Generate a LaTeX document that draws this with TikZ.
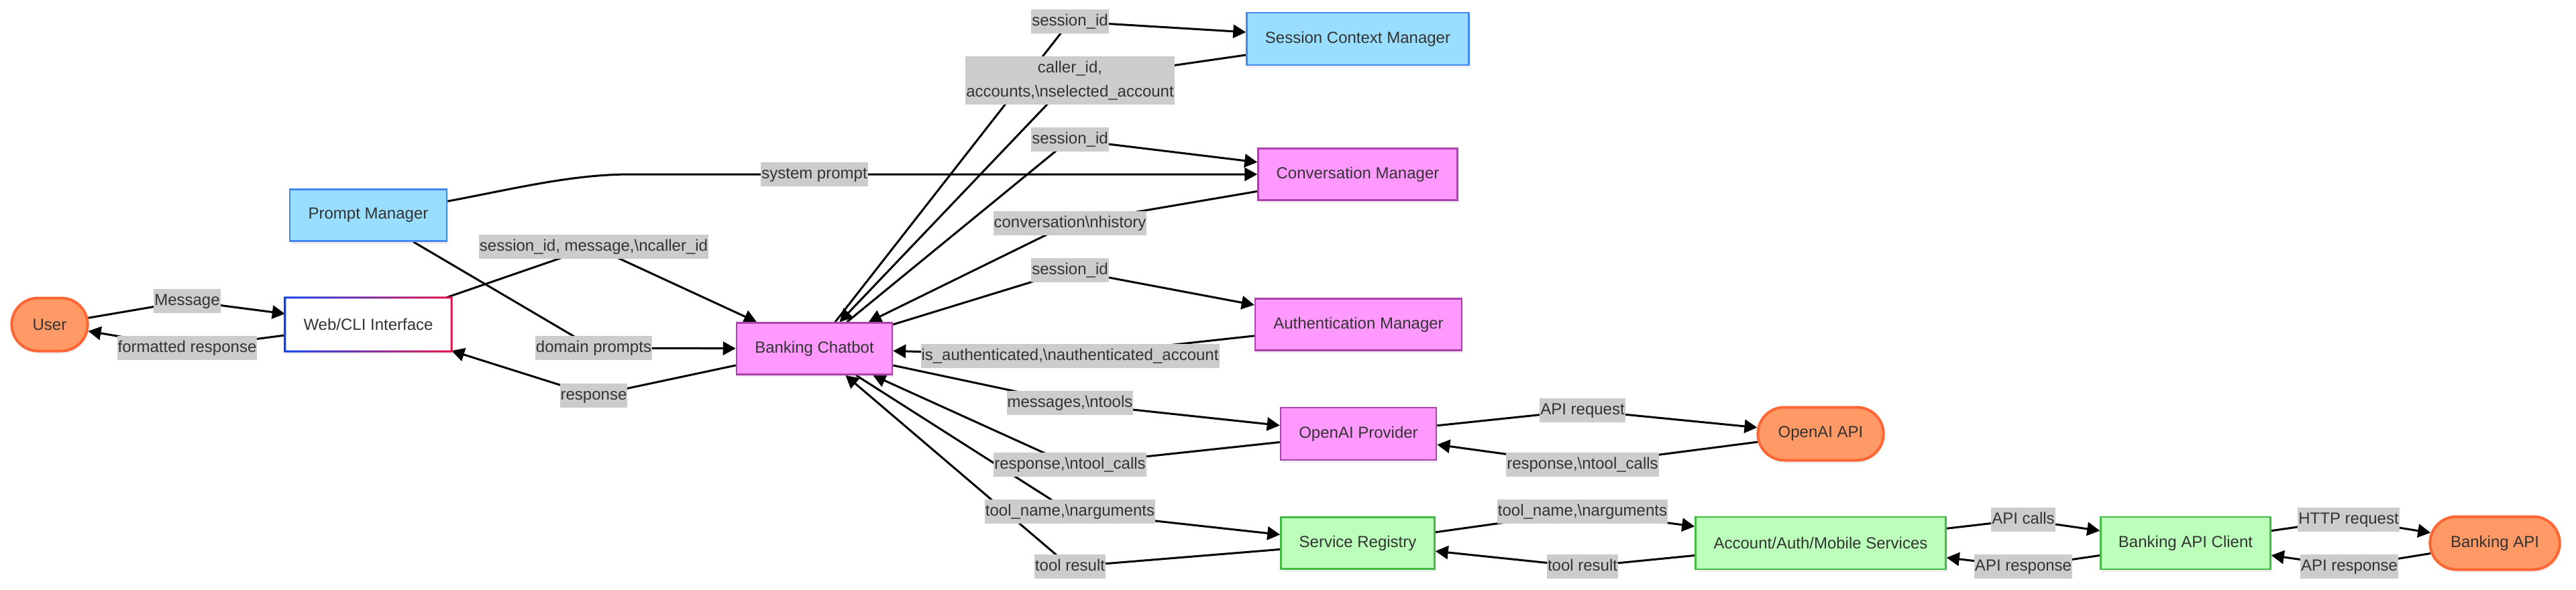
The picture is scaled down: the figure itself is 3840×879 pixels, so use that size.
\documentclass[tikz,border=0pt]{standalone}
\usepackage{fontspec}
\setmainfont{Liberation Sans}
\usetikzlibrary{arrows.meta,shapes.misc,shadows}
\pgfdeclarelayer{bg}
\pgfsetlayers{bg,main}
\definecolor{orfill}{HTML}{FF9966}
\definecolor{ordraw}{HTML}{FF6633}
\definecolor{pkfill}{HTML}{FF99FF}
\definecolor{pkdraw}{HTML}{AA44AA}
\definecolor{gnfill}{HTML}{BBFFBB}
\definecolor{gndraw}{HTML}{44BB44}
\definecolor{blfill}{HTML}{99DDFF}
\definecolor{bldraw}{HTML}{4488EE}
\definecolor{lblfill}{HTML}{CCCCCC}
\definecolor{txt}{HTML}{333333}
\definecolor{wbl}{HTML}{1040F0}
\definecolor{wrd}{HTML}{E8104A}
\begin{document}
\begin{tikzpicture}[x=1pt,y=-1pt,
  shadowed/.style={drop shadow={opacity=0.12,shadow xshift=2pt,shadow yshift=-4pt}},
  box/.style={rectangle,draw,line width=2.5pt,text=txt,font=\fontsize{24}{29}\selectfont,shadowed},
  pinkbox/.style={box,fill=pkfill,draw=pkdraw},
  greenbox/.style={box,fill=gnfill,draw=gndraw},
  bluebox/.style={box,fill=blfill,draw=bldraw},
  webbox/.style={rectangle,fill=white,draw=none,text=txt,font=\fontsize{24}{29}\selectfont,shadowed},
  stad/.style={rounded rectangle,fill=orfill,draw=ordraw,line width=4pt,text=txt,font=\fontsize{24}{29}\selectfont,shadowed},
  lbl/.style={fill=lblfill,text=txt,inner xsep=1pt,inner ysep=0pt,minimum height=36pt,text height=17pt,text depth=5pt,font=\fontsize{24}{36}\selectfont},
  lbltwo/.style={fill=lblfill,text=txt,inner xsep=1pt,inner ysep=0pt,minimum height=72pt,align=center,font=\fontsize{24}{36}\selectfont},
  arr/.style={line width=3pt,-{Triangle[length=19pt,width=20pt]}}
]
\useasboundingbox (0,0) rectangle (3840,879);

% nodes
\node[stad,minimum width=120pt,minimum height=79pt] (user) at (74,484) {User};
\node[webbox,minimum width=248pt,minimum height=80pt] (web) at (549,484) {Web/CLI Interface};
\shade[left color=wbl,right color=wrd,even odd rule]
  ([shift={(-1.5pt,-1.5pt)}]web.south west) rectangle ([shift={(1.5pt,1.5pt)}]web.north east)
  ([shift={(1.5pt,1.5pt)}]web.south west) rectangle ([shift={(-1.5pt,-1.5pt)}]web.north east);
\node[bluebox,minimum width=234pt,minimum height=77pt] (pm) at (549,321) {Prompt Manager};
\node[pinkbox,minimum width=232pt,minimum height=77pt] (bc) at (1214,520) {Banking Chatbot};
\node[bluebox,minimum width=331pt,minimum height=78pt] (scm) at (2024,58) {Session Context Manager};
\node[pinkbox,minimum width=297pt,minimum height=77pt] (cm) at (2024,260) {Conversation Manager};
\node[pinkbox,minimum width=308pt,minimum height=77pt] (am) at (2025,484) {Authentication Manager};
\node[pinkbox,minimum width=232pt,minimum height=78pt] (op) at (2025,647) {OpenAI Provider};
\node[greenbox,minimum width=229pt,minimum height=77pt] (sr) at (2024,810) {Service Registry};
\node[stad,minimum width=194pt,minimum height=79pt] (oapi) at (2714,647) {OpenAI API};
\node[greenbox,minimum width=373pt,minimum height=78pt] (aam) at (2714,810) {Account/Auth/Mobile Services};
\node[greenbox,minimum width=253pt,minimum height=78pt] (bac) at (3258,810) {Banking API Client};
\node[stad,minimum width=200pt,minimum height=79pt] (bapi) at (3719,810) {Banking API};

% labels
\node[lbl] (lA) at (279,449) {Message};
\node[lbl] (lB) at (279,519) {formatted response};
\node[lbl] (lC) at (885,368) {session\_id, message,\textbackslash ncaller\_id};
\node[lbl] (lD) at (885,519) {domain prompts};
\node[lbl] (lE) at (885,590) {response};
\node[lbl] (lF) at (1214,260) {system prompt};
\node[lbl] (lG) at (1595,32) {session\_id};
\node[lbltwo] (lH) at (1595,120) {caller\_id,\\accounts,\textbackslash nselected\_account};
\node[lbl] (lI) at (1595,208) {session\_id};
\node[lbl] (lJ) at (1595,333) {conversation\textbackslash nhistory};
\node[lbl] (lK) at (1595,403) {session\_id};
\node[lbl] (lL) at (1595,531) {is\_authenticated,\textbackslash nauthenticated\_account};
\node[lbl] (lM) at (1595,601) {messages,\textbackslash ntools};
\node[lbl] (lN) at (1595,693) {response,\textbackslash ntool\_calls};
\node[lbl] (lO) at (1595,763) {tool\_name,\textbackslash narguments};
\node[lbl] (lP) at (1595,845) {tool result};
\node[lbl] (lQ) at (2359,612) {API request};
\node[lbl] (lR) at (2359,693) {response,\textbackslash ntool\_calls};
\node[lbl] (lS) at (2359,763) {tool\_name,\textbackslash narguments};
\node[lbl] (lT) at (2359,845) {tool result};
\node[lbl] (lU) at (3016,775) {API calls};
\node[lbl] (lV) at (3016,845) {API response};
\node[lbl] (lW) at (3501,775) {HTTP request};
\node[lbl] (lX) at (3502,845) {API response};

% edges
\begin{pgfonlayer}{bg}
\draw[arr] (user) -- (lA.center) -- (web);
\draw[arr] (web) -- (lB.center) -- (user);
\draw[arr] (web) -- (lC.center) -- (bc);
\draw[arr] (pm) -- (lD.center) -- (bc);
\draw[arr] (bc) -- (lE.center) -- (web);
\draw[arr] (pm.10) .. controls (760,283) and (850,260) .. (940,260) -- (lF.center) -- (cm);
\draw[arr] (bc) -- (lG.center) -- (scm);
\draw[arr] (scm) -- (lH.center) -- (bc);
\draw[arr] (bc) -- (lI.center) -- (cm);
\draw[arr] (cm) -- (lJ.center) -- (bc);
\draw[arr] (bc) -- (lK.center) -- (am);
\draw[arr] (am) -- (lL.center) -- (bc);
\draw[arr] (bc) -- (lM.center) -- (op);
\draw[arr] (op) -- (lN.center) -- (bc);
\draw[arr] (bc) -- (lO.center) -- (sr);
\draw[arr] (sr) -- (lP.center) -- (bc);
\draw[arr] (op) -- (lQ.center) -- (oapi);
\draw[arr] (oapi) -- (lR.center) -- (op);
\draw[arr] (sr) -- (lS.center) -- (aam);
\draw[arr] (aam) -- (lT.center) -- (sr);
\draw[arr] (aam) -- (lU.center) -- (bac);
\draw[arr] (bac) -- (lV.center) -- (aam);
\draw[arr] (bac) -- (lW.center) -- (bapi);
\draw[arr] (bapi) -- (lX.center) -- (bac);
\end{pgfonlayer}
\end{tikzpicture}
\end{document}
